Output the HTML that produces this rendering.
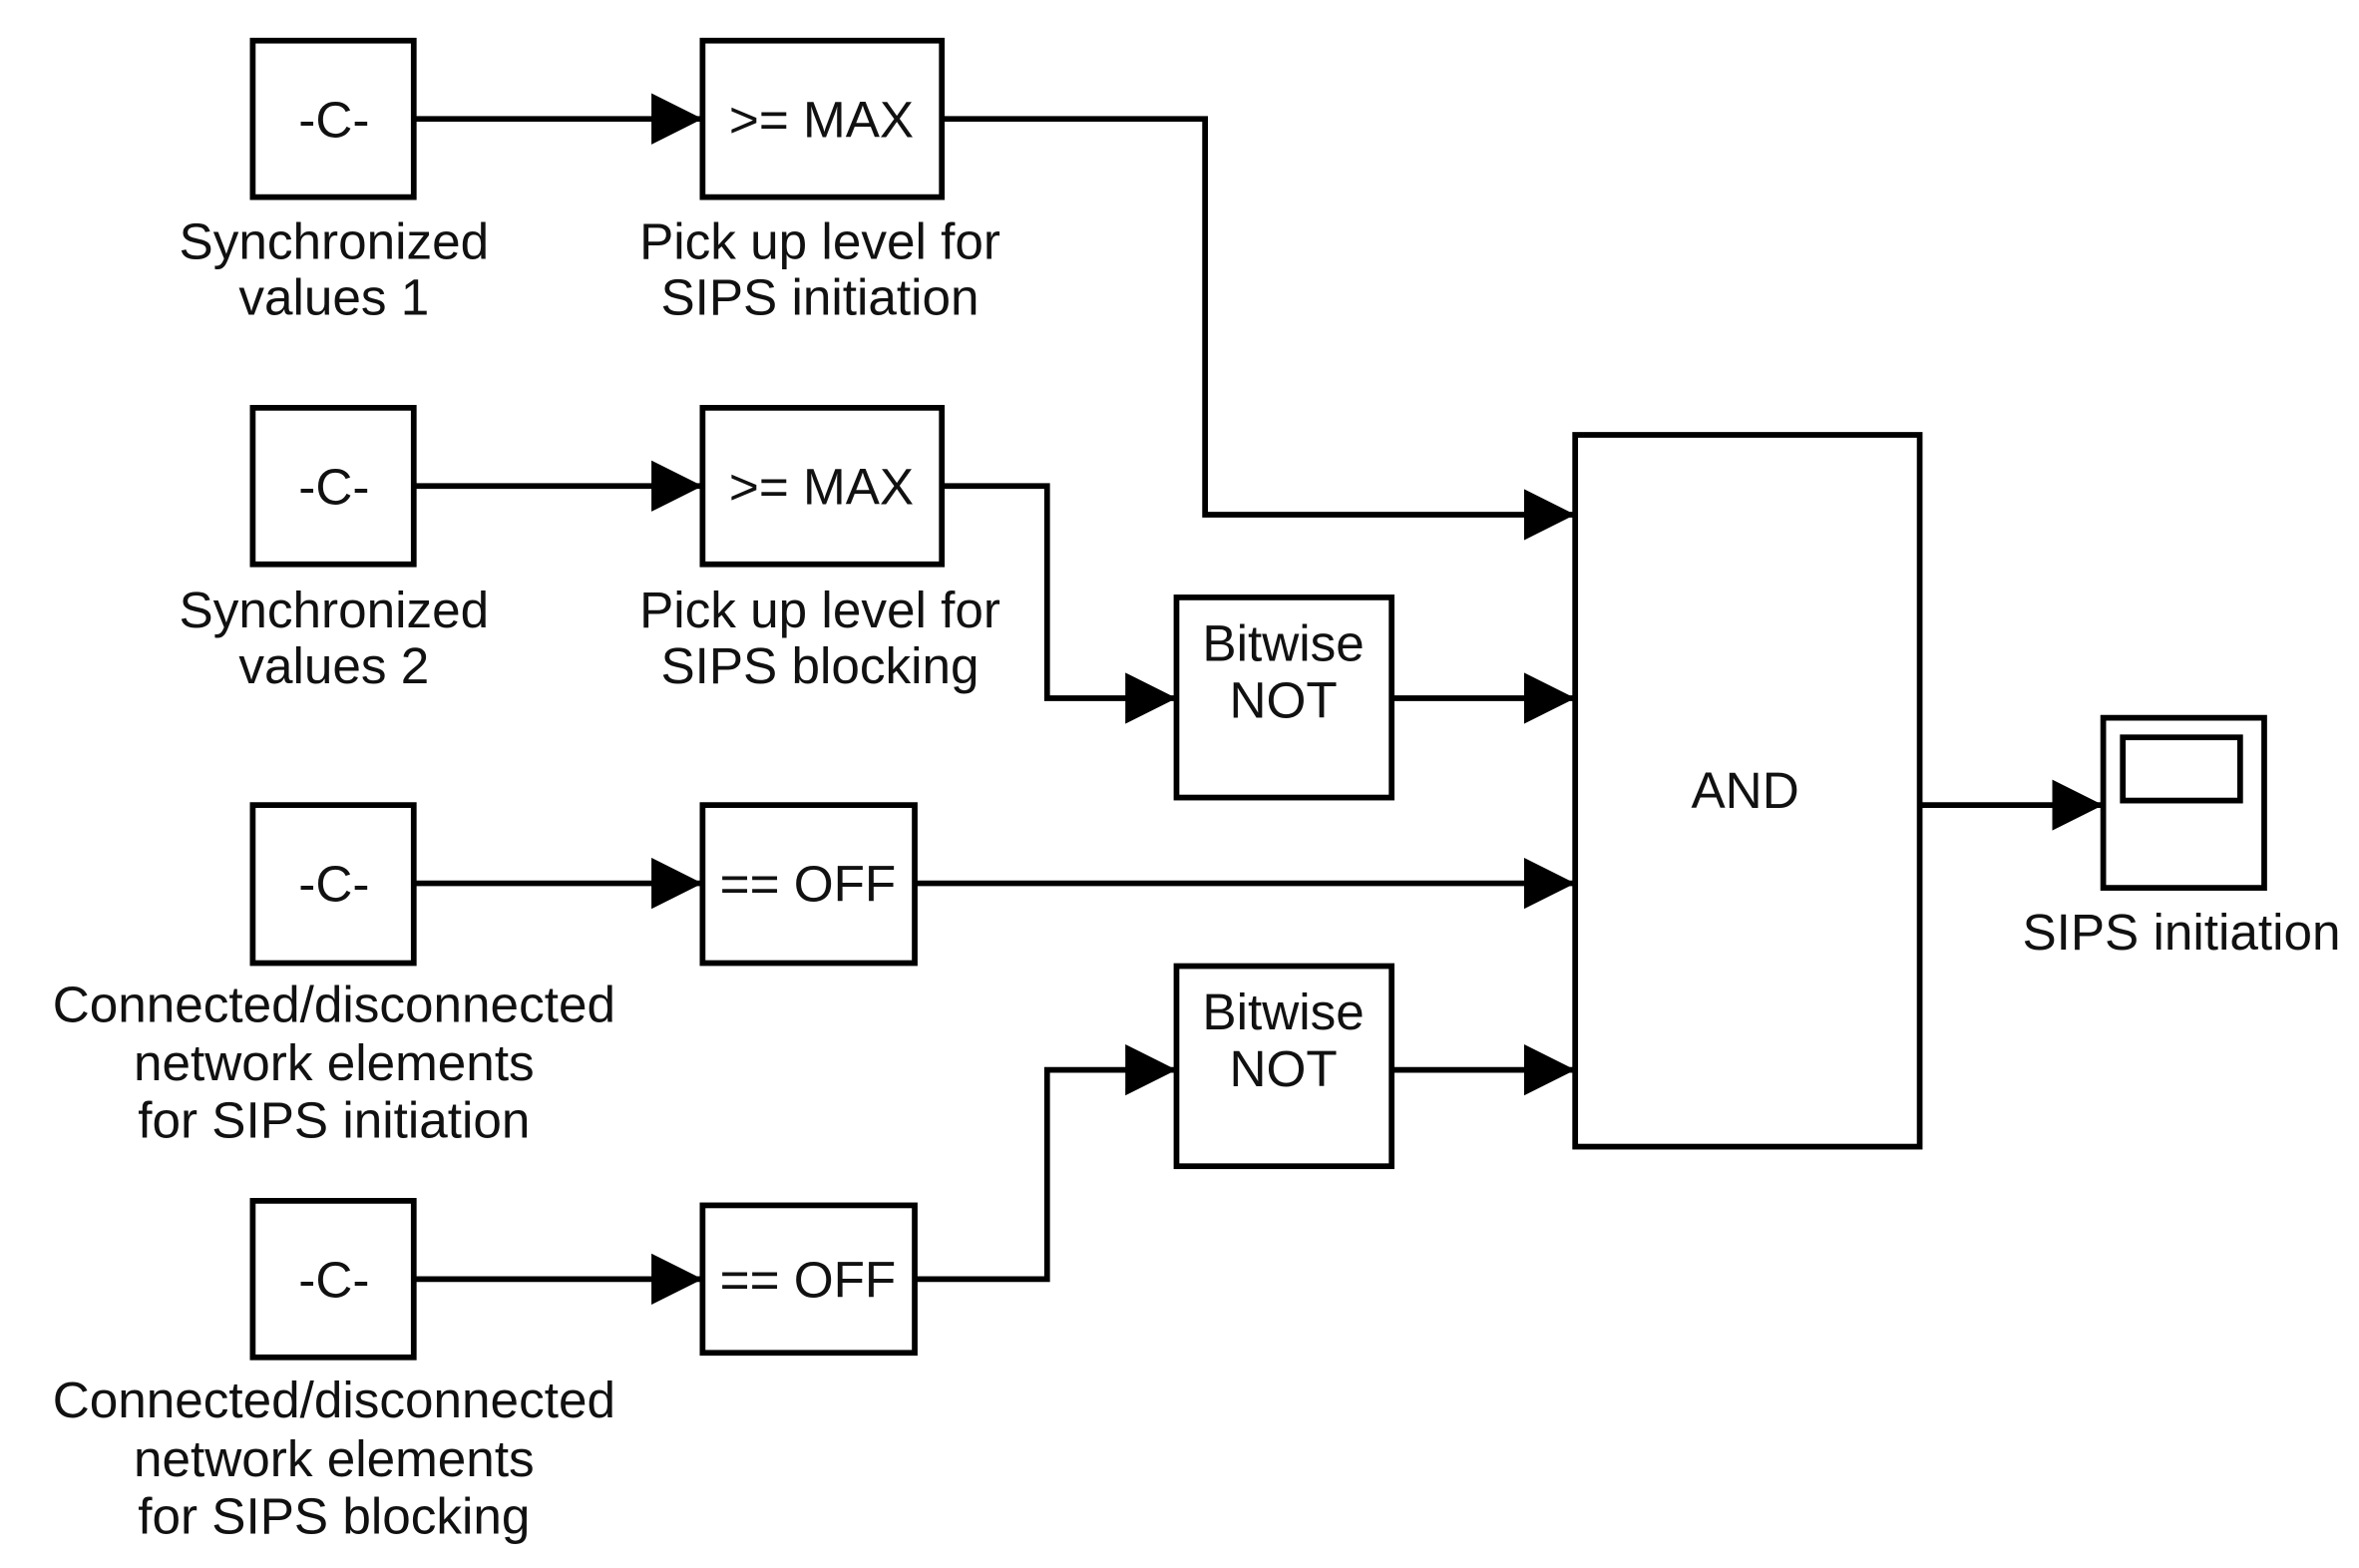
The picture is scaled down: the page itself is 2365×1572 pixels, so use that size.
<!DOCTYPE html>
<html><head><style>html,body{margin:0;padding:0;background:#fff}svg{display:block}</style></head>
<body>
<svg width="2365" height="1572" viewBox="0 0 1568 1042" preserveAspectRatio="none" xmlns="http://www.w3.org/2000/svg">
<defs>
<marker id="a" markerWidth="34" markerHeight="34" refX="34" refY="17" orient="auto" markerUnits="userSpaceOnUse">
<path d="M0,0 L34,17 L0,34 Z" fill="#000"/></marker>
</defs>
<g fill="#fff" stroke="#000" stroke-width="3.8">
<rect x="168" y="27" width="107" height="104"/>
<rect x="168" y="271" width="107" height="104"/>
<rect x="168" y="535" width="107" height="105"/>
<rect x="168" y="798" width="107" height="104"/>
<rect x="467" y="27" width="159" height="104"/>
<rect x="467" y="271" width="159" height="104"/>
<rect x="467" y="535" width="141" height="105"/>
<rect x="467" y="801" width="141" height="98"/>
<rect x="782" y="397" width="143" height="133"/>
<rect x="782" y="642" width="143" height="133"/>
<rect x="1047" y="289" width="229" height="473"/>
<rect x="1398" y="477" width="107" height="113"/>
<rect x="1411" y="490" width="78" height="42"/>
</g>
<g fill="none" stroke="#000" stroke-width="3.8" marker-end="url(#a)">
<path d="M275,79 H467"/>
<path d="M275,323 H467"/>
<path d="M275,587 H467"/>
<path d="M275,850 H467"/>
<path d="M626,79 H801 V342 H1047"/>
<path d="M626,323 H696 V464 H782"/>
<path d="M925,464 H1047"/>
<path d="M608,587 H1047"/>
<path d="M925,711 H1047"/>
<path d="M608,850 H696 V711 H782"/>
<path d="M1276,535 H1398"/>
</g>
<g font-family="Liberation Sans, Arial, sans-serif" font-size="34" fill="#111" text-anchor="middle">
<text x="222" y="91">-C-</text>
<text x="222" y="335">-C-</text>
<text x="222" y="599">-C-</text>
<text x="222" y="862">-C-</text>
<text x="546" y="91">&gt;= MAX</text>
<text x="546" y="335">&gt;= MAX</text>
<text x="537" y="599">== OFF</text>
<text x="537" y="862">== OFF</text>
<text x="853" y="439">Bitwise</text>
<text x="853" y="477">NOT</text>
<text x="853" y="684">Bitwise</text>
<text x="853" y="722">NOT</text>
<text x="1160" y="537">AND</text>
<text x="1450" y="631">SIPS initiation</text>
<text x="222" y="172">Synchronized</text>
<text x="222" y="209">values 1</text>
<text x="545" y="172">Pick up level for</text>
<text x="545" y="209">SIPS initiation</text>
<text x="222" y="417">Synchronized</text>
<text x="222" y="454">values 2</text>
<text x="545" y="417">Pick up level for</text>
<text x="545" y="454">SIPS blocking</text>
<text x="222" y="679">Connected/disconnected</text>
<text x="222" y="718">network elements</text>
<text x="222" y="756">for SIPS initiation</text>
<text x="222" y="942">Connected/disconnected</text>
<text x="222" y="981">network elements</text>
<text x="222" y="1019">for SIPS blocking</text>
</g>
</svg>
</body></html>
